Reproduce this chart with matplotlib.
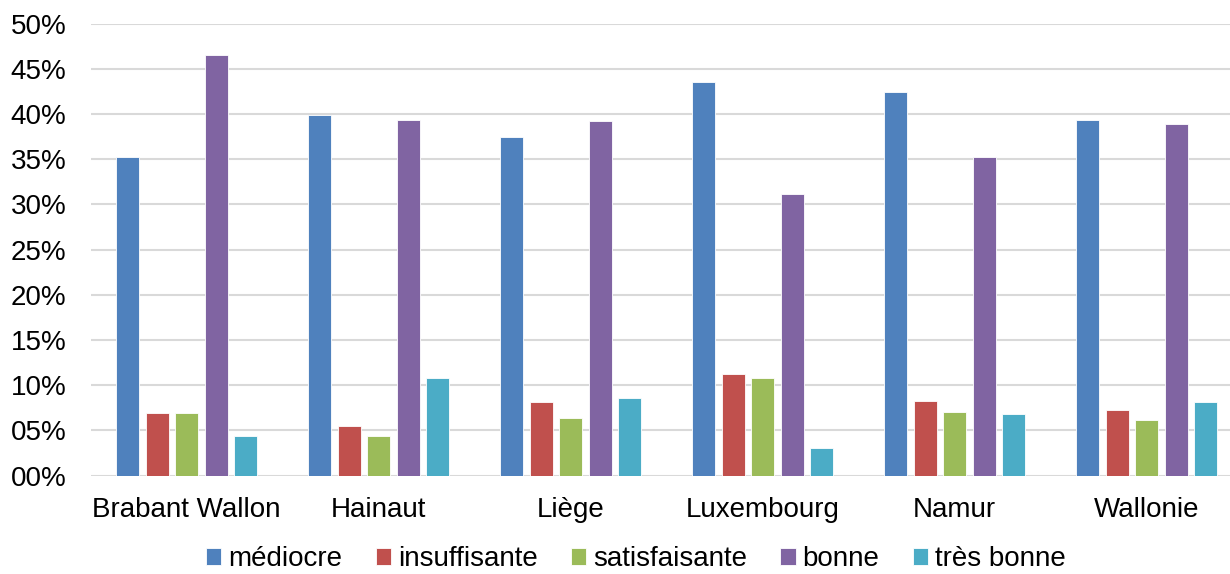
import numpy as np
import matplotlib
matplotlib.use("Agg")
import matplotlib.pyplot as plt
from matplotlib.ticker import FuncFormatter

# ----------
#  DATA
# ----------
regions = ["Brabant Wallon", "Hainaut", "Liège", "Luxembourg", "Namur", "Wallonie"]
series_names = ["médiocre", "insuffisante", "satisfaisante", "bonne", "très bonne"]

mediocre = [35.2, 39.9, 37.5, 43.5, 42.5, 39.3]
insuffisante = [6.9, 5.5, 8.2, 11.3, 8.3, 7.3]
satisfaisante = [6.9, 4.4, 6.4, 10.8, 7.0, 6.2]
bonne = [46.5, 39.4, 39.2, 31.2, 35.3, 38.9]
tres_bonne = [4.4, 10.8, 8.6, 3.1, 6.8, 8.2]

yticks = [0, 5, 10, 15, 20, 25, 30, 35, 40, 45, 50]

# ----------
#  CONFIG
# ----------
colors = ["#4F81BD", "#C0504D", "#9BBB59", "#8064A2", "#4BACC6"]
grid_color = "#D9D9D9"
font_size = 20
plt.rcParams["font.family"] = ["Liberation Sans", "DejaVu Sans"]

fig = plt.figure(figsize=(12.3, 5.74), dpi=100)
ax = fig.add_axes([0.0736, 0.1713, 0.9366, 0.7874])

x = np.arange(len(regions))
slot = 0.1536
bar_w = 0.12
all_series = [mediocre, insuffisante, satisfaisante, bonne, tres_bonne]
for i, (name, vals) in enumerate(zip(series_names, all_series)):
    ax.bar(x + (i - 2) * slot, vals, width=bar_w, color=colors[i],
           edgecolor="white", linewidth=0.6, label=name, zorder=3)

ax.set_xlim(-0.5, len(regions) - 0.5)
ax.set_ylim(0, 50)
ax.set_yticks(yticks)
ax.yaxis.set_major_formatter(FuncFormatter(lambda v, p: "{:02d}%".format(int(round(v)))))
ax.set_xticks(x)
ax.set_xticklabels(regions)

ax.grid(axis="y", color=grid_color, linewidth=1.5, zorder=0)
ax.set_axisbelow(True)
for s in ax.spines.values():
    s.set_visible(False)
ax.tick_params(axis="both", length=0, labelsize=font_size, colors="black")
ax.tick_params(axis="y", pad=17.5)
ax.tick_params(axis="x", pad=15)

# legend under the chart, one row
fig.legend(loc="center", bbox_to_anchor=(0.517, 0.026), ncol=5,
           frameon=False, fontsize=font_size, handlelength=0.55,
           handleheight=0.55, handletextpad=0.25, columnspacing=1.2,
           borderpad=0, borderaxespad=0)

fig.savefig("out.png", dpi=100)
